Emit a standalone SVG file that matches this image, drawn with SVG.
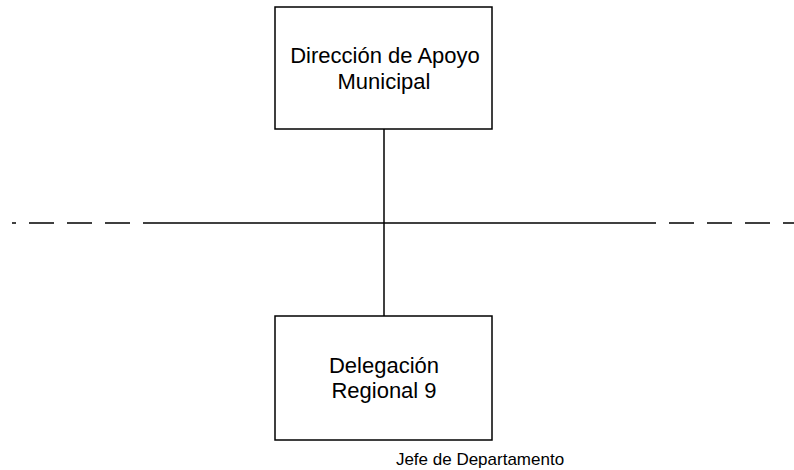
<svg xmlns="http://www.w3.org/2000/svg" width="794" height="470" viewBox="0 0 794 470">
<style>
.box{fill:#fff;stroke:#000;stroke-width:1.5}
.ln{stroke:#000;stroke-width:1.5;fill:none}
.t{font-family:"Liberation Sans",Arial,sans-serif;font-size:22px;fill:#000;text-anchor:middle}
.s{font-family:"Liberation Sans",Arial,sans-serif;font-size:17px;fill:#000;text-anchor:middle}
</style>
<rect width="794" height="470" fill="#fff"/>
<g id="connectors">
<line class="ln" x1="384" y1="129" x2="384" y2="316"/>
<line class="ln" x1="12" y1="223" x2="16" y2="223"/>
<line class="ln" x1="29" y1="223" x2="130" y2="223" stroke-dasharray="25 13"/>
<line class="ln" x1="143" y1="223" x2="656" y2="223"/>
<line class="ln" x1="669" y1="223" x2="794" y2="223" stroke-dasharray="25 13"/>
</g>
<g id="node-direccion">
<rect class="box" x="275" y="7" width="217" height="122"/>
<text class="t" x="385" y="63">Dirección de Apoyo</text>
<text class="t" x="384" y="89">Municipal</text>
</g>
<g id="node-delegacion">
<rect class="box" x="275" y="316" width="217" height="124"/>
<text class="t" x="384" y="373">Delegación</text>
<text class="t" x="384" y="398">Regional 9</text>
</g>
<g id="label-jefe">
<text class="s" x="480" y="465">Jefe de Departamento</text>
</g>
</svg>
